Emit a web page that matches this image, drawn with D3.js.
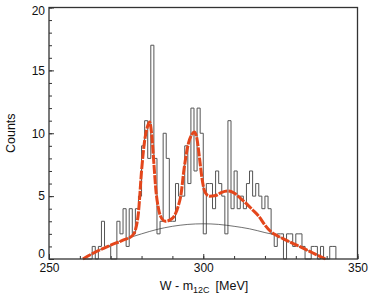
<!DOCTYPE html>
<html>
<head>
<meta charset="utf-8">
<script src="https://cdn.jsdelivr.net/npm/d3@7"></script>
<style>
body { margin: 0; background: #fff; }
text { font-family: "Liberation Sans", Arial, sans-serif; fill: #111; }
</style>
</head>
<body>
<svg id="chart" width="373" height="302"></svg>
<script>
// histogram: lower edge of each 1 MeV bin and its counts
var binLo = d3.range(261, 343);
var counts = [0, 0, 0, 1, 0, 1, 3, 1, 1, 0,
              0, 3, 2, 4, 1, 4, 2, 4, 5, 9,
              11, 8, 17, 8, 2, 3, 10, 8, 3, 3,
              6, 5, 5, 9, 6, 12, 7, 12, 10, 2,
              6, 6, 4, 7, 6, 5, 2, 11, 4, 7,
              4, 5, 4, 6, 7, 5, 6, 5, 4, 5,
              4, 2, 1, 2, 2, 0, 2, 2, 1, 2,
              2, 1, 0, 0, 1, 1, 0, 1, 0, 0,
              1, 1];

// full fit (red)
var fitX = [261, 265, 270, 274, 277, 278, 279, 280, 281, 282, 282.6, 283.3, 284, 284.6, 285.5,
            286.6, 287.7, 289.8, 291, 292, 292.7, 293.8, 295.2, 296.3, 297.1, 298, 298.8, 299.6,
            300.6, 302, 304, 306, 308, 310, 312, 314, 316, 318, 320, 322, 324, 326, 329, 332,
            335, 337, 339.6];
var fitY = [0, 0.55, 1.1, 1.5, 1.85, 2.3, 3.7, 7.0, 9.4, 10.6, 10.9, 9.9, 7.6, 5.6, 4.0,
            3.2, 3.0, 3.2, 3.6, 4.3, 5.0, 7.2, 9.2, 9.9, 10.1, 9.5, 8.0, 6.4,
            5.3, 5.0, 5.05, 5.3, 5.4, 5.25, 4.85, 4.4, 3.9, 3.4, 2.7, 2.15, 1.85, 1.6, 1.25, 0.9,
            0.55, 0.3, 0];

// background (thin black)
var bgX = [261, 265, 270, 275, 280, 285, 290, 295, 300, 305, 310, 315, 320, 324, 326, 329, 332, 335, 337, 339.6];
var bgY = [0, 0.55, 1.1, 1.6, 2.0, 2.35, 2.6, 2.75, 2.8, 2.75, 2.6, 2.4, 2.1, 1.85, 1.6, 1.25, 0.9, 0.55, 0.3, 0];

var xMajor = [250, 300, 350];
var xMinor = d3.range(250, 351, 10);
var yMajor = [0, 5, 10, 15, 20];
var yMinor = d3.range(0, 21, 1);

var svg = d3.select("#chart");
var plotL = 49, plotR = 357.5, plotT = 7.5, plotB = 259;

var x = d3.scaleLinear().domain([250, 350]).range([plotL, plotR]);
var y = d3.scaleLinear().domain([0, 20]).range([plotB, plotT]);

// minor ticks
svg.append("g")
	.attr("transform", "translate(" + plotL + ",0)")
	.call(d3.axisLeft(y).tickValues(yMinor).tickSize(-3).tickFormat(""))
	.call(function(g){ g.select(".domain").remove(); g.selectAll("line").attr("stroke", "#333"); });
svg.append("g")
	.attr("transform", "translate(0," + plotB + ")")
	.call(d3.axisBottom(x).tickValues(xMinor).tickSize(-3).tickFormat(""))
	.call(function(g){ g.select(".domain").remove(); g.selectAll("line").attr("stroke", "#333"); });

// major ticks + labels
svg.append("g")
	.attr("transform", "translate(" + plotL + ",0)")
	.call(d3.axisLeft(y).tickValues(yMajor).tickSizeInner(-5).tickSizeOuter(0).tickPadding(4))
	.call(function(g){
		g.select(".domain").remove();
		g.selectAll("line").attr("stroke", "#333");
		g.selectAll("text").attr("font-size", 12).attr("font-family", null);
		// "0" sits a little above its tick, clear of "250"
		g.selectAll("text").filter(function(d){ return d === 0; }).attr("y", -5);
		g.selectAll("text").filter(function(d){ return d === 20; }).attr("y", 3);
	});
svg.append("g")
	.attr("transform", "translate(0," + plotB + ")")
	.call(d3.axisBottom(x).tickValues(xMajor).tickSizeInner(-5).tickSizeOuter(0).tickPadding(4))
	.call(function(g){
		g.select(".domain").remove();
		g.selectAll("line").attr("stroke", "#333");
		g.selectAll("text").attr("font-size", 12).attr("font-family", null);
	});

// histogram outline
var steps = binLo.map(function(b, i){ return [b, counts[i]]; });
steps.push([binLo[binLo.length - 1] + 1, 0]);
svg.append("path")
	.datum(steps)
	.attr("fill", "none")
	.attr("stroke", "#555")
	.attr("stroke-width", 1)
	.attr("d", d3.line()
		.x(function(d){ return x(d[0]); })
		.y(function(d){ return y(d[1]); })
		.curve(d3.curveStepAfter));

// background curve
svg.append("path")
	.datum(bgX.map(function(v, i){ return [v, bgY[i]]; }))
	.attr("fill", "none")
	.attr("stroke", "#333")
	.attr("stroke-width", 0.7)
	.attr("d", d3.line()
		.x(function(d){ return x(d[0]); })
		.y(function(d){ return y(d[1]); })
		.curve(d3.curveMonotoneX));

// fit curve
svg.append("path")
	.datum(fitX.map(function(v, i){ return [v, fitY[i]]; }))
	.attr("fill", "none")
	.attr("stroke", "#e4461b")
	.attr("stroke-width", 3)
	.attr("stroke-dasharray", "9,1.2")
	.attr("d", d3.line()
		.x(function(d){ return x(d[0]); })
		.y(function(d){ return y(d[1]); })
		.curve(d3.curveMonotoneX));

// frame
svg.append("rect")
	.attr("x", plotL).attr("y", plotT)
	.attr("width", plotR - plotL).attr("height", plotB - plotT)
	.attr("fill", "none")
	.attr("stroke", "#333")
	.attr("stroke-width", 1.3);

// axis titles
svg.append("text")
	.attr("transform", "translate(15," + ((plotT + plotB) / 2) + ") rotate(-90)")
	.attr("text-anchor", "middle")
	.attr("font-size", 12.5)
	.text("Counts");

var xt = svg.append("text")
	.attr("x", 204).attr("y", 290)
	.attr("text-anchor", "middle")
	.attr("font-size", 12.5);
xt.append("tspan").text("W - m");
xt.append("tspan").attr("font-size", 9).attr("dy", 3).text("12C");
xt.append("tspan").attr("dy", -3).attr("dx", 6).text("[MeV]");
</script>
</body>
</html>
